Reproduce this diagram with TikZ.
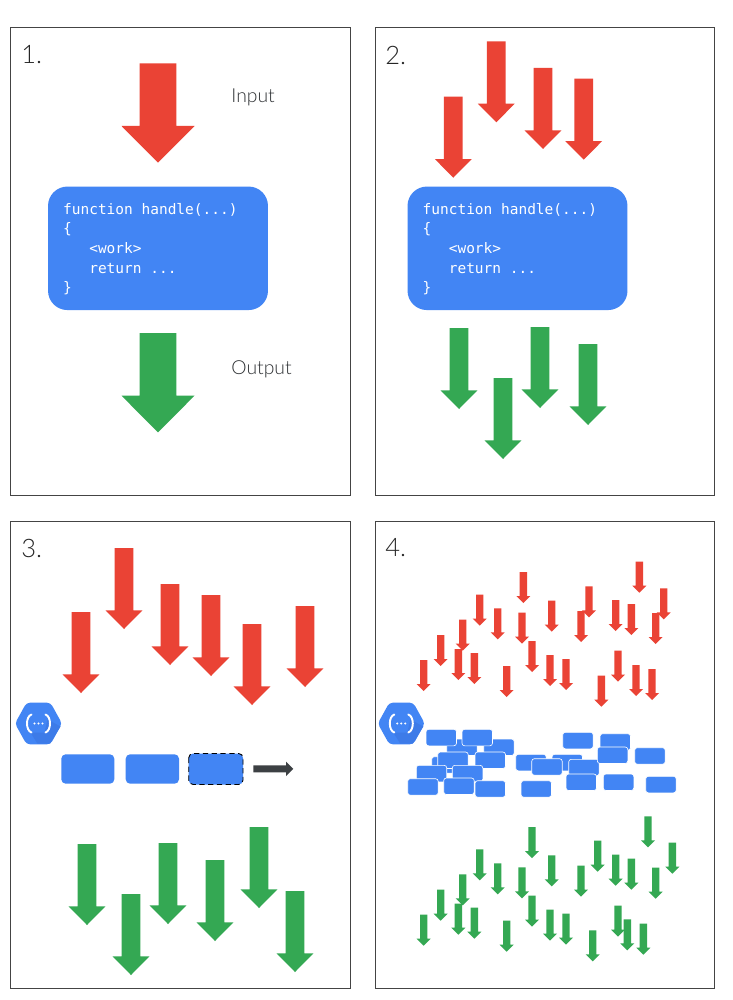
\documentclass[tikz,border=0pt]{standalone}
\usepackage{fontspec}
\setmainfont{Lato Light}
\newfontfamily\codefont{DejaVu Sans Mono}
\usetikzlibrary{positioning}
\definecolor{gred}{HTML}{EA4335}
\definecolor{ggreen}{HTML}{34A853}
\definecolor{gblue}{HTML}{4285F4}
\definecolor{gshade}{HTML}{3D7BE8}
\definecolor{inkdark}{HTML}{2E3134}
\definecolor{queuegray}{HTML}{3C4043}
\definecolor{framegray}{HTML}{444444}

\tikzset{
  panel/.style={draw=framegray, line width=0.55pt, fill=white},
  panellabel/.style={anchor=west, text=black!85, font=\fontsize{14.5}{14.5}\selectfont, inner sep=0pt},
  flowlabel/.style={anchor=west, text=inkdark, font=\fontsize{11}{11}\selectfont, inner sep=0pt},
  codebox/.style={fill=gblue, rounded corners=11pt, minimum width=4.4cm, minimum height=2.47cm},
  codetext/.style={text=white, align=left, inner sep=0pt, text width=3.78cm,
    execute at begin node={\spaceskip=0pt\xspaceskip=0pt\relax},
    font=\codefont\fontsize{8.24}{11.2}\selectfont},
  request/.style={fill=gblue, draw=white, line width=0.35pt, rounded corners=1.5pt},
  instance/.style={fill=gblue, rounded corners=2.5pt}
}

% x, top, length, half shaft, half head, head height
\newcommand{\downshape}[7]{
  \fill[#1] ({#2-#5},#3) -- ({#2+#5},#3) -- ({#2+#5},{#3+#4-#7}) -- ({#2+#6},{#3+#4-#7})
    -- (#2,{#3+#4}) -- ({#2-#6},{#3+#4-#7}) -- ({#2-#5},{#3+#4-#7}) -- cycle;
}
\newcommand{\fnhex}[1]{
  \begin{scope}[shift={(#1,723.5)}]
    \fill[gblue, rounded corners=2pt] (-23.5,0) -- (-12,-20.8) -- (12,-20.8) -- (23.5,0) -- (12,20.8) -- (-12,20.8) -- cycle;
    \fill[gshade] (9,-4) -- (22,3) -- (11.5,20.2) -- (-1,20.2) -- (-8,9) -- (6,9) -- cycle;
    \draw[white, line width=1.1pt, line cap=round] (-7,-9) .. controls (-13,-7) and (-13,7) .. (-7,9);
    \draw[white, line width=1.1pt, line cap=round] (7,-9) .. controls (13,-7) and (13,7) .. (7,9);
    \foreach \d in {-4,0,4} \fill[white] (\d,0) circle (1.1);
  \end{scope}
}

\begin{document}
\begin{tikzpicture}[x=0.02cm, y=-0.02cm]
  \useasboundingbox (0,0) rectangle (733,1000);

  % frames
  \draw[panel] (10.5,27.5) rectangle (350.5,495);
  \draw[panel] (375,27.5) rectangle (714,495);
  \draw[panel] (10.5,521) rectangle (350.5,988);
  \draw[panel] (375,521) rectangle (714,988);

  \node[panellabel] (labelone) at (21,55) {1.};
  \node[panellabel] (labeltwo) at (385,55) {2.};
  \node[panellabel] (labelthree) at (21,548) {3.};
  \node[panellabel] (labelfour) at (385,548) {4.};

  % panel 1
  \downshape{gred}{158}{63.3}{99.4}{18.3}{36.5}{36.7}
  \downshape{ggreen}{158}{333}{99.4}{18.3}{36.5}{36.7}
  \node[flowlabel] (input) at (231,97) {Input};
  \node[flowlabel] (output) at (231,369) {Output};
  \node[codebox] (handlerone) at (158,248.3) {};
  \node[codetext] (codeone) at ([xshift=-0.2pt,yshift=-0.5pt]handlerone.center) {function handle(...)\\\{\\\phantom{xxx}<work>\\\phantom{xxx}return ...\\\}};

  % panel 2
  \node[codebox] (handlertwo) at (517.5,248.3) {};
  \node[codetext] (codetwo) at ([xshift=-0.2pt,yshift=-0.5pt]handlertwo.center) {function handle(...)\\\{\\\phantom{xxx}<work>\\\phantom{xxx}return ...\\\}};
  \foreach \x/\t in {453.3/96.7, 496.3/41.3, 543/68, 583.7/78.7}
    \downshape{gred}{\x}{\t}{81}{9.4}{18.4}{18.6};
  \foreach \x/\t in {459/328, 503/378, 540/327, 588/344}
    \downshape{ggreen}{\x}{\t}{81}{9.4}{18.4}{18.6};

  % panel 3
  \foreach \x/\t in {81/612, 124/548, 170/584, 211/595, 252/624, 305/606}
    \downshape{gred}{\x}{\t}{81}{9.4}{18.4}{18.6};
  \foreach \x/\t in {87/844, 131/894, 168/843, 215/860, 259/827, 295/891}
    \downshape{ggreen}{\x}{\t}{81}{9.4}{18.4}{18.6};
  \fnhex{38.5}
  \fill[instance] (61.3,754.3) rectangle (114.3,783.7);
  \fill[instance] (125.7,754.3) rectangle (179,783.7);
  \draw[instance, draw=black, densely dashed, line width=0.5pt] (188.7,753.5) rectangle (243,784.5);
  \fill[queuegray] (253.3,765.3) -- (286,765.3) -- (286,761.7) -- (293.3,768.8) -- (286,776) -- (286,772.3) -- (253.3,772.3) -- cycle;

  % panel 4
  \foreach \x/\t in {423.7/660, 440.7/635, 458.3/649, 474.3/653, 462.7/619.7, 479.7/594.7, 497.7/608.3,
      522/612.7, 523.3/572, 532/641, 506.7/666, 550/655, 566/659, 551.7/600.7, 581/611, 589/586.3,
      615.7/600, 631.3/604, 655.7/613, 663.7/588.3, 639.3/561.7, 618/650.7, 636/665, 652/669, 601.3/675.7}
    \downshape{gred}{\x}{\t}{31}{3.7}{7}{7};
  \foreach \x/\t in {423.7/914.7, 440.7/889.7, 458.3/903.7, 474.3/907.7, 462.7/874.3, 479.7/849.3, 497.7/863.3,
      522/867.3, 532/827, 532/895.7, 506.7/920.7, 550/909.7, 566/913.7, 551.7/855.3, 581/865.7, 597.7/840.7,
      615.7/854.7, 631.3/858.7, 655.7/867.7, 672.3/842.7, 648/816.3, 618/905.7, 627.3/919.3, 643.3/923.7, 592.7/930.3}
    \downshape{ggreen}{\x}{\t}{31}{3.7}{7}{7};
  \fnhex{401.3}
  \foreach \x/\t in {446.7/739, 483.7/739, 426/729.3, 462/729.3, 431.7/756.7, 437.7/752, 475/752,
      416.3/765.3, 452.3/765.3, 407.7/778.7, 443.7/778, 475/780.7, 515.7/754.3, 552/754.3, 531.7/758.7,
      568.7/759.3, 562.7/732.3, 600/733.7, 597.3/747, 634.7/747.7, 566/774, 603.3/774, 645.7/776.3, 521/780.7}
    \draw[request] (\x,\t) rectangle +(30.5,16.5);
\end{tikzpicture}
\end{document}
